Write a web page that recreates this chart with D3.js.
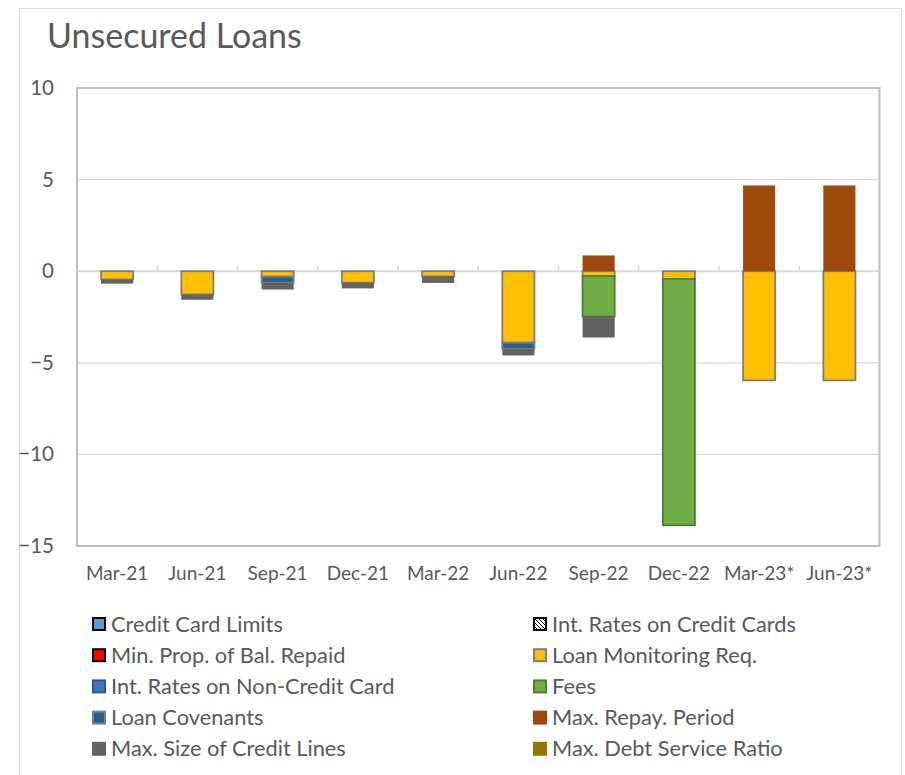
<!DOCTYPE html>
<html>
<head>
<meta charset="utf-8">
<script src="https://cdn.jsdelivr.net/npm/d3@7"></script>
<style>
  html, body { margin: 0; padding: 0; background: #ffffff; }
  svg text { font-family: Lato, "Open Sans", sans-serif; fill: #595959; }
</style>
</head>
<body>
<svg id="chart" width="905" height="775"></svg>
<script>
// ---------- Data ----------
const categories = ["Mar-21", "Jun-21", "Sep-21", "Dec-21", "Mar-22", "Jun-22", "Sep-22", "Dec-22", "Mar-23*", "Jun-23*"];

const creditCardLimits      = [0, 0, 0, 0, 0, 0, 0, 0, 0, 0];
const intRatesCreditCards   = [0, 0, 0, 0, 0, 0, 0, 0, 0, 0];
const minPropBalRepaid      = [0, 0, 0, 0, 0, 0, 0, 0, 0, 0];
const loanMonitoringReq     = [-0.45, -1.27, -0.3, -0.63, -0.29, -3.9, -0.27, -0.42, -5.96, -5.96];
const intRatesNonCreditCard = [0, 0, 0, 0, 0, 0, 0, 0, 0, 0];
const fees                  = [0, 0, 0, 0, 0, 0, -2.2, -13.45, 0, 0];
const loanCovenants         = [0, 0, -0.33, 0, 0, -0.33, 0, 0, 0, 0];
const maxRepayPeriod        = [0, 0, 0, 0, 0, 0, 0.86, 0, 4.68, 4.68];
const maxSizeCreditLines    = [-0.23, -0.29, -0.37, -0.31, -0.35, -0.37, -1.15, 0, 0, 0];
const maxDebtServiceRatio   = [0, 0, 0, 0, 0, 0, 0, 0, 0, 0];

const seriesNames = [
  "Credit Card Limits", "Int. Rates on Credit Cards", "Min. Prop. of Bal. Repaid",
  "Loan Monitoring Req.", "Int. Rates on Non-Credit Card", "Fees",
  "Loan Covenants", "Max. Repay. Period", "Max. Size of Credit Lines", "Max. Debt Service Ratio"
];
const seriesValues = [
  creditCardLimits, intRatesCreditCards, minPropBalRepaid, loanMonitoringReq,
  intRatesNonCreditCard, fees, loanCovenants, maxRepayPeriod, maxSizeCreditLines, maxDebtServiceRatio
];
const yTicks = [10, 5, 0, -5, -10, -15];
const title = "Unsecured Loans";

// ---------- Styles ----------
const fills = ["#5B9BD5", "url(#ptn)", "#FF0000", "#FFC000", "#4472C4", "#70AD47", "#255E91", "#9E480E", "#636363", "#997300"];
const strokes = ["#000000", "#000000", "#000000", "#7F7F7F", "#2F5597", "#507E32", "#7F7F7F", "none", "none", "none"];

// ---------- Layout ----------
const svg = d3.select("#chart");
const plot = { left: 77, right: 879.5, top: 88, bottom: 546 };

const defs = svg.append("defs");
const ptn = defs.append("pattern").attr("id", "ptn").attr("patternUnits", "userSpaceOnUse")
  .attr("width", 4).attr("height", 4);
ptn.append("rect").attr("width", 4).attr("height", 4).attr("fill", "#fff");
[0, 1, 2, 3].forEach(k => {
  ptn.append("rect").attr("x", k).attr("y", k).attr("width", 1).attr("height", 1).attr("fill", "#000");
});

// outer chart border
svg.append("rect").attr("x", 19.5).attr("y", 8.5).attr("width", 882).attr("height", 800)
  .attr("fill", "#fff").attr("stroke", "#D9D9D9").attr("stroke-width", 1);

// title
svg.append("text").attr("x", 47).attr("y", 48).attr("font-size", 34).text(title);

const x = d3.scaleBand().domain(categories).range([plot.left, plot.right]).padding(0);
const y = d3.scaleLinear().domain([-15, 10]).range([plot.bottom, plot.top]);

// gridlines
svg.append("g").selectAll("line").data(yTicks.filter(t => t !== 10 && t !== -15 && t !== 0)).join("line")
  .attr("x1", plot.left).attr("x2", plot.right)
  .attr("y1", d => y(d)).attr("y2", d => y(d))
  .attr("stroke", "#D9D9D9").attr("stroke-width", 1.3);

// plot border
svg.append("rect").attr("x", plot.left).attr("y", plot.top)
  .attr("width", plot.right - plot.left).attr("height", plot.bottom - plot.top)
  .attr("fill", "none").attr("stroke", "#BFBFBF").attr("stroke-width", 2);

// y axis labels
const yAxis = d3.axisLeft(y).tickValues(yTicks).tickSize(0).tickPadding(23).tickFormat(d3.format("d"));
const gy = svg.append("g").attr("transform", `translate(${plot.left},0)`).call(yAxis);
gy.select(".domain").remove();
gy.selectAll("text").attr("font-size", 20.5).attr("fill", "#595959")
  .style("font-family", "Lato, 'Open Sans', sans-serif");

// zero line with tick marks
svg.append("line").attr("x1", plot.left).attr("x2", plot.right)
  .attr("y1", y(0)).attr("y2", y(0)).attr("stroke", "#D9D9D9").attr("stroke-width", 2);
svg.append("g").selectAll("line").data(categories.slice(1)).join("line")
  .attr("x1", d => x(d)).attr("x2", d => x(d))
  .attr("y1", y(0) - 6).attr("y2", y(0))
  .attr("stroke", "#D9D9D9").attr("stroke-width", 1.5);

// x labels
svg.append("g").selectAll("text").data(categories).join("text")
  .attr("x", d => x(d) + x.bandwidth() / 2).attr("y", 580)
  .attr("text-anchor", "middle").attr("font-size", 19).text(d => d);

// stacked bars
const table = categories.map((c, i) => {
  const row = { category: c };
  seriesNames.forEach((s, j) => { row[s] = seriesValues[j][i]; });
  return row;
});
const stacked = d3.stack().keys(seriesNames).offset(d3.stackOffsetDiverging)(table);
const barW = x.bandwidth() * 0.4;

stacked.forEach((layer, j) => {
  const g = svg.append("g");
  g.selectAll("rect").data(layer.filter(d => d[1] - d[0] !== 0)).join("rect")
    .attr("x", d => x(d.data.category) + (x.bandwidth() - barW) / 2)
    .attr("width", barW)
    .attr("y", d => y(Math.max(d[0], d[1])))
    .attr("height", d => Math.abs(y(d[0]) - y(d[1])))
    .attr("fill", fills[j])
    .attr("stroke", strokes[j])
    .attr("stroke-width", strokes[j] === "none" ? 0 : 1.8);
});

// legend
const legendX = [92, 533];
const legendY0 = 624, legendDY = 31.2;
seriesNames.forEach((s, j) => {
  const col = j % 2, row = Math.floor(j / 2);
  const lx = legendX[col], ly = legendY0 + row * legendDY;
  const hasStroke = strokes[j] !== "none";
  svg.append("rect")
    .attr("x", lx + (hasStroke ? 1 : 0)).attr("y", ly - 7 + (hasStroke ? 1 : 0))
    .attr("width", hasStroke ? 12 : 14).attr("height", hasStroke ? 12 : 14)
    .attr("fill", fills[j]).attr("stroke", strokes[j])
    .attr("stroke-width", hasStroke ? 2 : 0);
  svg.append("text").attr("x", lx + 19).attr("y", ly + 7.5)
    .attr("font-size", 21.8).text(s);
});
</script>
</body>
</html>
